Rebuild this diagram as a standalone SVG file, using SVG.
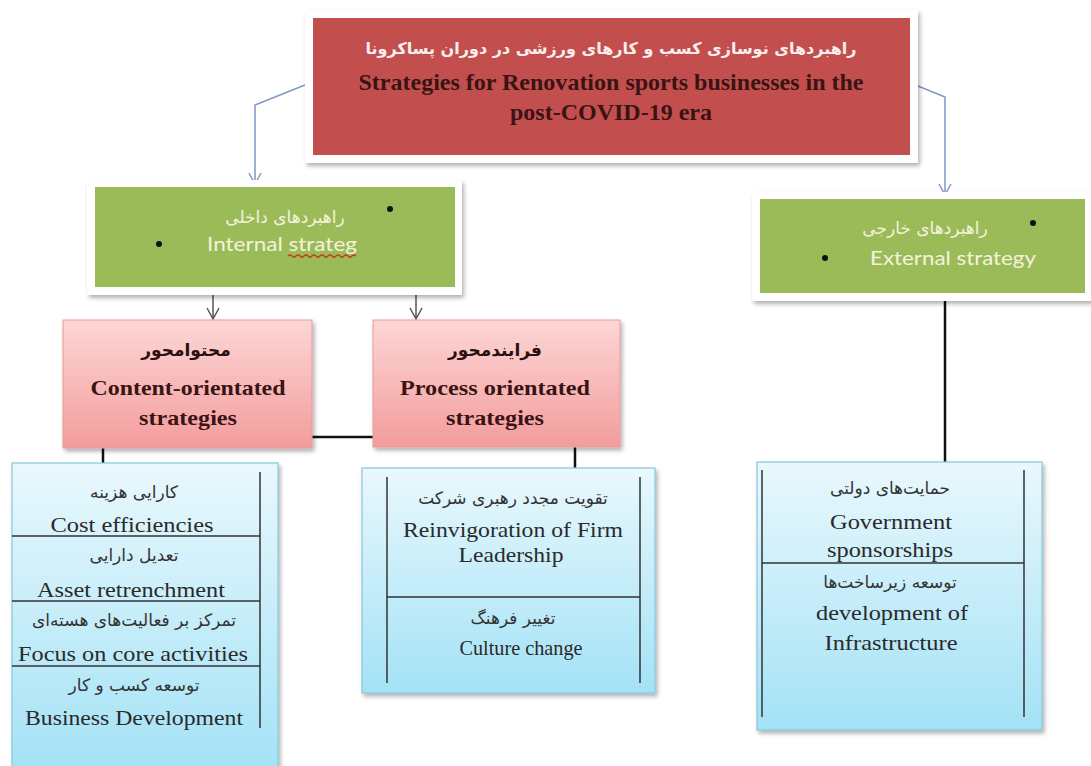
<svg xmlns="http://www.w3.org/2000/svg" width="1091" height="766" viewBox="0 0 1091 766">
<defs>
  <linearGradient id="pink" x1="0" y1="0" x2="0" y2="1">
    <stop offset="0" stop-color="#fdd6d6"/>
    <stop offset="1" stop-color="#f39c9c"/>
  </linearGradient>
  <linearGradient id="blue" x1="0" y1="0" x2="0" y2="1">
    <stop offset="0" stop-color="#e9f8fd"/>
    <stop offset="1" stop-color="#a3e2f6"/>
  </linearGradient>
  <filter id="sh" x="-5%" y="-5%" width="115%" height="120%">
    <feDropShadow dx="2" dy="3" stdDeviation="2" flood-color="#000" flood-opacity="0.3"/>
  </filter>
  <marker id="arrBlue" markerWidth="14" markerHeight="14" refX="12" refY="7" orient="auto" markerUnits="userSpaceOnUse" viewBox="0 0 14 14">
    <polyline points="1,1 12,7 1,13" fill="none" stroke="#7f98c4" stroke-width="1.5"/>
  </marker>
  <marker id="arrGray" markerWidth="14" markerHeight="14" refX="12" refY="7" orient="auto" markerUnits="userSpaceOnUse" viewBox="0 0 14 14">
    <polyline points="1,1 12,7 1,13" fill="none" stroke="#555" stroke-width="1.5"/>
  </marker>
  <style>
    .panel{fill:#fff;filter:url(#sh)}
    .red{fill:#c24f4e}
    .green{fill:#9bbb59}
    .pinkbox{fill:url(#pink);stroke:#e79a9a;stroke-width:1;filter:url(#sh)}
    .bluebox{fill:url(#blue);stroke:#86c6da;stroke-width:1.2;filter:url(#sh)}
    .sep{stroke:#333;stroke-width:1.5;fill:none}
    .en{font-family:"Liberation Serif","Times New Roman",serif;font-size:22px;text-anchor:middle;fill:#2a2a2a}
    .enb{font-family:"Liberation Serif","Times New Roman",serif;font-size:22px;font-weight:bold;text-anchor:middle;fill:#3a1414}
    .fa{font-family:"DejaVu Sans",sans-serif;font-size:17px;text-anchor:middle;direction:rtl;fill:#333}
    .fab{font-family:"DejaVu Sans",sans-serif;font-size:17px;font-weight:bold;text-anchor:middle;direction:rtl;fill:#2a1010}
    .gtxt{font-family:Lato,"Open Sans",sans-serif;font-size:19px;fill:#f3f3dc;text-anchor:middle}
    .gfa{font-family:"DejaVu Sans",sans-serif;font-size:17px;fill:#f3f3dc;text-anchor:middle;direction:rtl}
    .conn-blue{stroke:#7f98c4;stroke-width:1.5;fill:none}
    .conn-gray{stroke:#555;stroke-width:1.5;fill:none}
    .conn-black{stroke:#111;stroke-width:2.5;fill:none}
  </style>
</defs>
<rect width="1091" height="766" fill="#fff"/>

<g id="connectors">
  <polyline class="conn-blue" points="305,85 255,105 255,184" marker-end="url(#arrBlue)"/>
  <polyline class="conn-blue" points="918,86 945,97 945,195" marker-end="url(#arrBlue)"/>
  <line class="conn-gray" x1="213" y1="287" x2="213" y2="319" marker-end="url(#arrGray)"/>
  <line class="conn-gray" x1="416" y1="287" x2="416" y2="319" marker-end="url(#arrGray)"/>
  <line class="conn-black" x1="312" y1="437" x2="373" y2="437"/>
  <line class="conn-black" x1="103" y1="448" x2="103" y2="463"/>
  <line class="conn-black" x1="575" y1="447" x2="575" y2="468"/>
  <line class="conn-black" x1="945" y1="293" x2="945" y2="462"/>
</g>

<g id="root">
  <rect class="panel" x="305" y="10" width="613" height="153"/>
  <rect class="red" x="313" y="18" width="597" height="137"/>
  <text class="fab" x="611" y="54" style="font-size:16px;fill:#fbeeee">راهبردهای نوسازی کسب و کارهای ورزشی در دوران پساکرونا</text>
  <text class="enb" x="611" y="90" style="font-size:23px" textLength="505" lengthAdjust="spacingAndGlyphs">Strategies for Renovation sports businesses in the</text>
  <text class="enb" x="611" y="120" style="font-size:23px" textLength="202" lengthAdjust="spacingAndGlyphs">post-COVID-19 era</text>
</g>

<g id="internal">
  <rect class="panel" x="87" y="180" width="375" height="115"/>
  <rect class="green" x="95" y="187" width="360" height="100"/>
  <circle cx="390" cy="209" r="3" fill="#111"/>
  <circle cx="159" cy="244" r="3" fill="#111"/>
  <text class="gfa" x="285" y="223">راهبردهای داخلی</text>
  <text class="gtxt" x="282" y="251" textLength="150" lengthAdjust="spacingAndGlyphs">Internal strateg</text>
  <path d="M288,256 q2,-2 4,0 t4,0 t4,0 t4,0 t4,0 t4,0 t4,0 t4,0 t4,0 t4,0 t4,0 t4,0 t4,0 t4,0 t4,0 t4,0 t4,0" fill="none" stroke="#d0361e" stroke-width="1.3"/>
</g>

<g id="external">
  <rect class="panel" x="752" y="192" width="345" height="109"/>
  <rect class="green" x="760" y="199" width="325" height="94"/>
  <circle cx="1033" cy="223" r="3" fill="#111"/>
  <circle cx="825" cy="258" r="3" fill="#111"/>
  <text class="gfa" x="925" y="234">راهبردهای خارجی</text>
  <text class="gtxt" x="953" y="265" textLength="166" lengthAdjust="spacingAndGlyphs">External strategy</text>
</g>

<g id="content">
  <rect class="pinkbox" x="63" y="320" width="249" height="128"/>
  <text class="fab" x="186" y="356">محتوامحور</text>
  <text class="enb" x="188" y="395" textLength="195" lengthAdjust="spacingAndGlyphs">Content-orientated</text>
  <text class="enb" x="188" y="425" textLength="98" lengthAdjust="spacingAndGlyphs">strategies</text>
</g>

<g id="process">
  <rect class="pinkbox" x="373" y="320" width="247" height="127"/>
  <text class="fab" x="495" y="356">فرایندمحور</text>
  <text class="enb" x="495" y="395" textLength="190" lengthAdjust="spacingAndGlyphs">Process orientated</text>
  <text class="enb" x="495" y="425" textLength="98" lengthAdjust="spacingAndGlyphs">strategies</text>
</g>

<g id="content-items">
  <rect class="bluebox" x="12" y="463" width="266" height="310"/>
  <line class="sep" x1="260" y1="472" x2="260" y2="728"/>
  <line class="sep" x1="12" y1="536" x2="260" y2="536"/>
  <line class="sep" x1="12" y1="601" x2="260" y2="601"/>
  <line class="sep" x1="12" y1="666" x2="260" y2="666"/>
  <text class="fa" x="134" y="498">کارایی هزینه</text>
  <text class="en" x="132" y="532" textLength="163" lengthAdjust="spacingAndGlyphs">Cost efficiencies</text>
  <text class="fa" x="134" y="561">تعدیل دارایی</text>
  <text class="en" x="131" y="597" textLength="188" lengthAdjust="spacingAndGlyphs">Asset retrenchment</text>
  <text class="fa" x="134" y="626">تمرکز بر فعالیت‌های هسته‌ای</text>
  <text class="en" x="133" y="661" textLength="230" lengthAdjust="spacingAndGlyphs">Focus on core activities</text>
  <text class="fa" x="134" y="691">توسعه کسب و کار</text>
  <text class="en" x="134" y="725" textLength="218" lengthAdjust="spacingAndGlyphs">Business Development</text>
</g>

<g id="process-items">
  <rect class="bluebox" x="362" y="468" width="293" height="225"/>
  <line class="sep" x1="387" y1="477" x2="387" y2="683"/>
  <line class="sep" x1="640" y1="477" x2="640" y2="683"/>
  <line class="sep" x1="387" y1="597" x2="640" y2="597"/>
  <text class="fa" x="513" y="504">تقویت مجدد رهبری شرکت</text>
  <text class="en" x="513" y="537" textLength="220" lengthAdjust="spacingAndGlyphs">Reinvigoration of Firm</text>
  <text class="en" x="511" y="562" textLength="105" lengthAdjust="spacingAndGlyphs">Leadership</text>
  <text class="fa" x="513" y="624">تغییر فرهنگ</text>
  <text class="en" x="521" y="655" textLength="123" lengthAdjust="spacingAndGlyphs">Culture change</text>
</g>

<g id="external-items">
  <rect class="bluebox" x="757" y="462" width="285" height="268"/>
  <line class="sep" x1="762" y1="470" x2="762" y2="717"/>
  <line class="sep" x1="1024" y1="470" x2="1024" y2="717"/>
  <line class="sep" x1="762" y1="563" x2="1024" y2="563"/>
  <text class="fa" x="890" y="494">حمایت‌های دولتی</text>
  <text class="en" x="891" y="529" textLength="122" lengthAdjust="spacingAndGlyphs">Government</text>
  <text class="en" x="890" y="557" textLength="126" lengthAdjust="spacingAndGlyphs">sponsorships</text>
  <text class="fa" x="890" y="588">توسعه زیرساخت‌ها</text>
  <text class="en" x="892" y="620" textLength="152" lengthAdjust="spacingAndGlyphs">development of</text>
  <text class="en" x="891" y="650" textLength="133" lengthAdjust="spacingAndGlyphs">Infrastructure</text>
</g>
</svg>
